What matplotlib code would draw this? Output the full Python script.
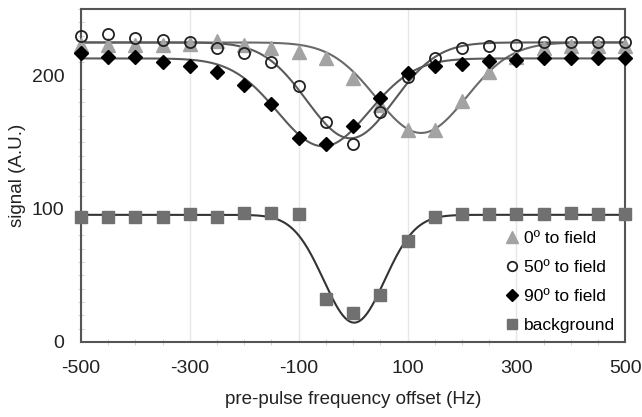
import numpy as np
import matplotlib
matplotlib.use("Agg")
import matplotlib.pyplot as plt
from matplotlib.ticker import MultipleLocator

plt.rcParams['font.family'] = ['Liberation Sans', 'DejaVu Sans']
plt.rcParams['axes.unicode_minus'] = False

# pre-pulse frequency offset (Hz)
offset = [-500, -450, -400, -350, -300, -250, -200, -150, -100, -50, 0,
          50, 100, 150, 200, 250, 300, 350, 400, 450, 500]

# signal (A.U.)
deg0 = [223, 223, 223, 223, 224, 226, 223, 221, 218, 213, 198,
        178, 159, 159, 181, 203, 214, 221, 222, 222, 222]
deg50 = [230, 231, 228, 227, 225, 221, 217, 210, 192, 165, 149,
         173, 199, 213, 221, 222, 223, 225, 225, 225, 225]
deg90 = [217, 214, 214, 210, 207, 203, 193, 179, 153, 149, 162,
         183, 202, 207, 209, 211, 212, 213, 213, 213, 213]
background = [94, 94, 94, 94, 96, 94, 97, 97, 96, 32, 22,
              35, 76, 94, 96, 96, 96, 96, 97, 96, 96]

# fitted dips: baseline, depth, centre (Hz), width (Hz)
fit_deg0 = [225, 68, 125, 83]
fit_deg50 = [225, 72, -5, 80]
fit_deg90 = [213, 66, -55, 84]
fit_background = [95.5, 81, 2, 56]


def dip(x, p):
    base, depth, c, w = p
    return base - depth * np.exp(-(x - c) ** 2 / (2 * w ** 2))


fig = plt.figure(figsize=(6.42, 4.17), dpi=100)
ax = fig.add_axes([0.126, 0.180, 0.848, 0.798])

xf = np.linspace(-500, 500, 500)
ax.plot(xf, dip(xf, fit_deg0), color='#6a6a6a', lw=1.5, zorder=2)
ax.plot(xf, dip(xf, fit_deg50), color='#5a5a5a', lw=1.5, zorder=2)
ax.plot(xf, dip(xf, fit_deg90), color='#5a5a5a', lw=1.5, zorder=2)
ax.plot(xf, dip(xf, fit_background), color='#333333', lw=1.5, zorder=2)

ax.plot(offset, deg0, ls='none', marker='^', ms=10, color='#a3a3a3',
        mec='#a3a3a3', label='0º to field', clip_on=False, zorder=3)
ax.plot(offset, deg50, ls='none', marker='o', ms=8, mfc='none',
        mec='#222222', mew=1.3, label='50º to field', clip_on=False, zorder=4)
ax.plot(offset, deg90, ls='none', marker='D', ms=7, color='black',
        label='90º to field', clip_on=False, zorder=4)
ax.plot(offset, background, ls='none', marker='s', ms=8, color='#707070',
        label='background', clip_on=False, zorder=3)

ax.set_xlim(-500, 500)
ax.set_ylim(0, 250)
ax.set_xticks([-500, -300, -100, 100, 300, 500])
ax.set_yticks([0, 100, 200])
ax.xaxis.set_minor_locator(MultipleLocator(50))
ax.yaxis.set_minor_locator(MultipleLocator(10))
ax.tick_params(axis='both', which='major', labelsize=14, length=0,
               colors='#222222')
ax.tick_params(axis='x', which='major', pad=13)
ax.tick_params(axis='y', which='major', pad=12)
ax.tick_params(axis='both', which='minor', length=4, direction='inout',
               color='#cccccc')
ax.grid(axis='x', which='major', color='#e6e6e6', lw=1)
ax.set_axisbelow(True)

for s in ax.spines.values():
    s.set_color('#555555')
    s.set_linewidth(1.5)

ax.set_xlabel('pre-pulse frequency offset (Hz)', fontsize=13.5,
              color='#222222', labelpad=10)
ax.set_ylabel('signal (A.U.)', fontsize=13.5, color='#222222', labelpad=4)

ax.legend(loc='lower right', bbox_to_anchor=(1.01, -0.02), frameon=False,
          fontsize=12.5, handlelength=0.8, handletextpad=0.3,
          labelspacing=0.8, markerscale=0.85)

fig.savefig('out.png', dpi=100)
